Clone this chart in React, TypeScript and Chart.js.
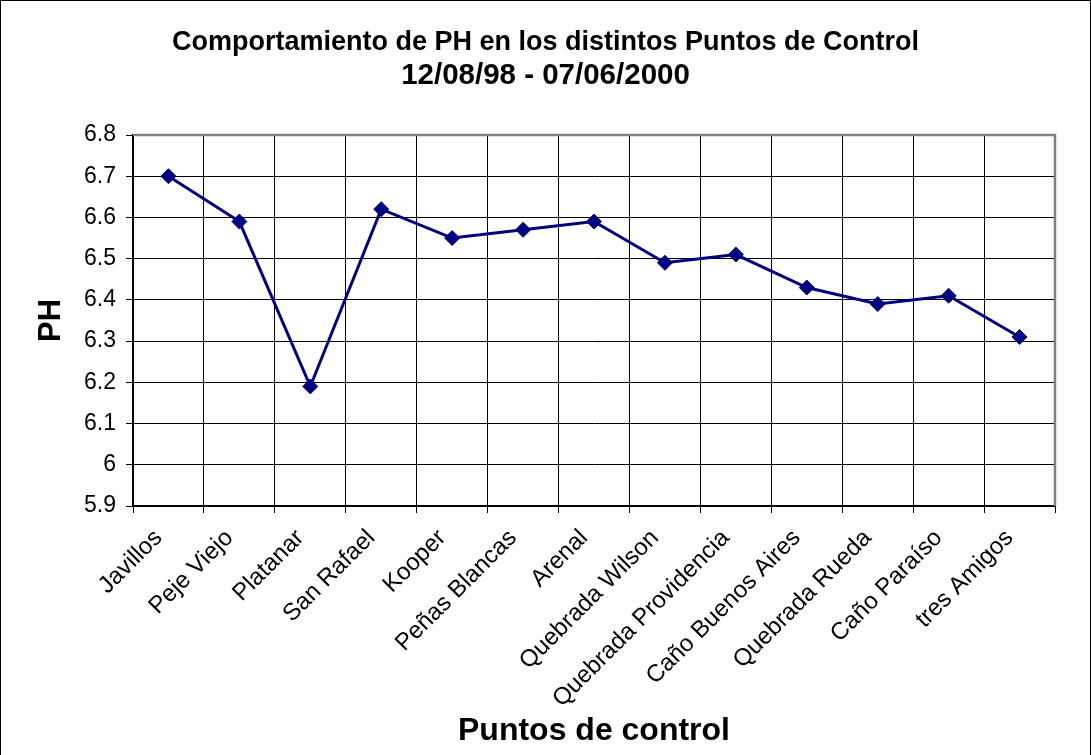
import React, { useEffect, useRef } from 'react';
import { Chart, registerables } from 'chart.js';

Chart.register(...registerables);

const FONT = '"Liberation Sans", Arial, sans-serif';

const categories = [
  'Javillos',
  'Peje Viejo',
  'Platanar',
  'San Rafael',
  'Kooper',
  'Peñas Blancas',
  'Arenal',
  'Quebrada Wilson',
  'Quebrada Providencia',
  'Caño Buenos Aires',
  'Quebrada Rueda',
  'Caño Paraíso',
  'tres Amigos',
];
const phValues = [6.7, 6.59, 6.19, 6.62, 6.55, 6.57, 6.59, 6.49, 6.51, 6.43, 6.39, 6.41, 6.31];
const yTicks = [5.9, 6.0, 6.1, 6.2, 6.3, 6.4, 6.5, 6.6, 6.7, 6.8];
const titleText = 'Comportamiento de PH en los distintos Puntos de Control';
const subtitleText = '12/08/98 - 07/06/2000';
const yTitle = 'PH';
const xTitle = 'Puntos de control';

const framePlugin = {
  id: 'frame',
  beforeDatasetsDraw(chart: any) {
    const { ctx, chartArea } = chart;
    ctx.save();
    ctx.strokeStyle = '#808080';
    ctx.lineWidth = 2.5;
    ctx.beginPath();
    ctx.moveTo(chartArea.left, chartArea.top);
    ctx.lineTo(chartArea.right, chartArea.top);
    ctx.lineTo(chartArea.right, chartArea.bottom);
    ctx.stroke();
    ctx.restore();
  },
  afterDraw(chart: any) {
    const { ctx, width, height } = chart;
    ctx.save();
    ctx.strokeStyle = '#000';
    ctx.lineWidth = 1;
    ctx.strokeRect(0.5, 0.5, width - 1, height + 2);
    ctx.restore();
  },
};

export default function App() {
  const ref = useRef<HTMLCanvasElement>(null);

  useEffect(() => {
    document.body.style.margin = '0';
    const canvas = ref.current;
    if (!canvas) return;
    const chart = new Chart(canvas, {
      type: 'line',
      data: {
        labels: categories,
        datasets: [
          {
            label: 'PH',
            data: phValues,
            borderColor: '#000080',
            backgroundColor: '#000080',
            borderWidth: 3,
            pointStyle: 'rectRot',
            pointRadius: 7.5,
            pointBorderWidth: 1,
            pointBackgroundColor: '#000080',
            pointBorderColor: '#000080',
            tension: 0,
            fill: false,
            yAxisID: 'y',
          },
        ],
      },
      options: {
        animation: false,
        responsive: true,
        maintainAspectRatio: false,
        layout: { padding: 0 },
        plugins: {
          legend: { display: false },
          tooltip: { enabled: false },
          title: {
            display: true,
            text: titleText,
            color: '#000',
            font: { family: FONT, size: 27, weight: 'bold', lineHeight: '33px' },
            padding: { top: 26, bottom: 0 },
          },
          subtitle: {
            display: true,
            text: subtitleText,
            color: '#000',
            font: { family: FONT, size: 29.5, weight: 'bold', lineHeight: '33px' },
            padding: { top: 0, bottom: 43 },
          },
        },
        scales: {
          x: {
            type: 'category',
            offset: true,
            grid: {
              offset: true,
              color: '#000',
              lineWidth: 1,
              tickLength: 7,
              tickColor: '#000',
            },
            border: { color: '#000', width: 2 },
            ticks: {
              autoSkip: false,
              minRotation: 45,
              maxRotation: 45,
              color: '#000',
              padding: 11,
              labelOffset: -10,
              font: { family: FONT, size: 24 },
            },
            title: {
              display: true,
              text: xTitle,
              color: '#000',
              font: { family: FONT, size: 32, weight: 'bold', lineHeight: 1.2 },
              padding: { top: 0, bottom: 5 },
            },
            afterFit: (s: any) => {
              s.height = 249;
            },
          },
          y: {
            min: 5.9,
            max: 6.8,
            afterBuildTicks: (s: any) => {
              s.ticks = yTicks.map((v) => ({ value: v }));
            },
            grid: {
              color: '#000',
              lineWidth: 1,
              tickLength: 7,
              tickColor: '#000',
            },
            border: { color: '#000', width: 2 },
            ticks: {
              color: '#000',
              padding: 10,
              font: { family: FONT, size: 23 },
              callback: (v: any) => String(parseFloat(Number(v).toFixed(1))),
            },
            title: {
              display: true,
              text: yTitle,
              color: '#000',
              font: { family: FONT, size: 31, weight: 'bold', lineHeight: 1.2 },
              padding: { top: 33, bottom: 0 },
            },
            afterFit: (s: any) => {
              s.width = 133;
            },
          },
          yRight: {
            position: 'right',
            display: true,
            grid: { display: false, drawOnChartArea: false, drawTicks: false },
            border: { display: false },
            ticks: { display: false },
            afterFit: (s: any) => {
              s.width = 36;
            },
          },
        },
      },
      plugins: [framePlugin],
    });
    return () => chart.destroy();
  }, []);

  return (
    <div style={{ position: 'relative', width: 1091, height: 755 }}>
      <canvas ref={ref} />
    </div>
  );
}
